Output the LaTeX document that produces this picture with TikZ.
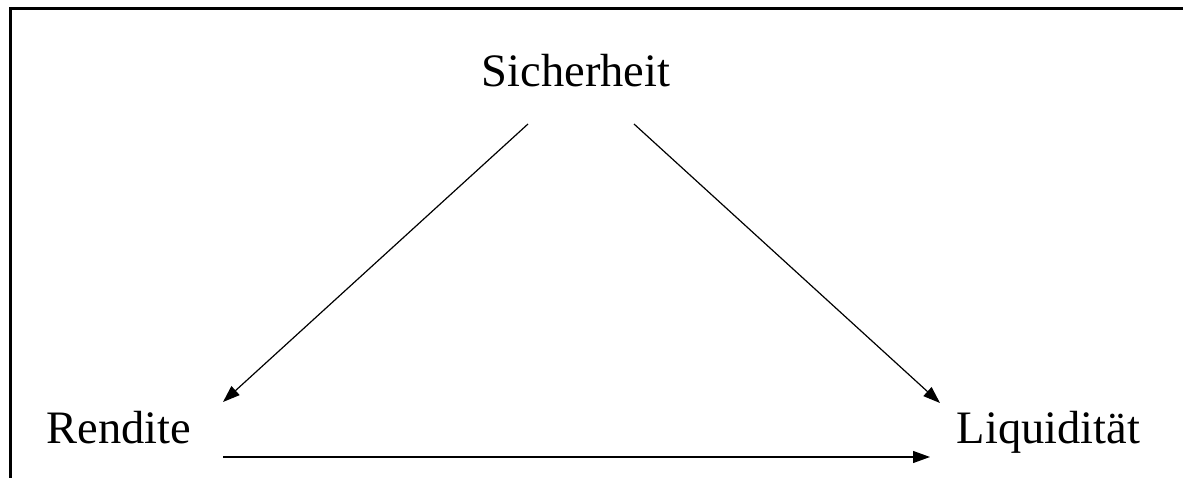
\documentclass[tikz,border=0pt]{standalone}
\usepackage{fontspec}
\setmainfont{Liberation Serif}
\usetikzlibrary{arrows.meta}

\begin{document}
\begin{tikzpicture}[
    x=1pt, y=1pt,
    goal/.style={font=\fontsize{46.5}{56}\selectfont, inner sep=0pt, anchor=base},
    link/.style={line width=1.2pt, -{Triangle[length=17pt,width=12pt]}}
]

\useasboundingbox (0,0) rectangle (1183,477);
\clip (0,0) rectangle (1183,477);

% frame
\draw[line width=3pt] (10,-10) -- (10,468) -- (1195,468);

\node[goal] (sich) at (576,390) {Sicherheit};
\node[goal] (rend) at (119,34) {Rendite};
\node[goal] (liq)  at (1048.5,34) {Liquidität};

\coordinate (sichL) at (528,353);
\coordinate (sichR) at (634,353);
\coordinate (rendT) at (223,75);
\coordinate (rendR) at (223,20);
\coordinate (liqT)  at (940,74);
\coordinate (liqL)  at (930,20);

\draw[link] (sichL) -- (rendT);
\draw[link] (sichR) -- (liqT);
\draw[link] (rendR) -- (liqL);

\end{tikzpicture}
\end{document}
